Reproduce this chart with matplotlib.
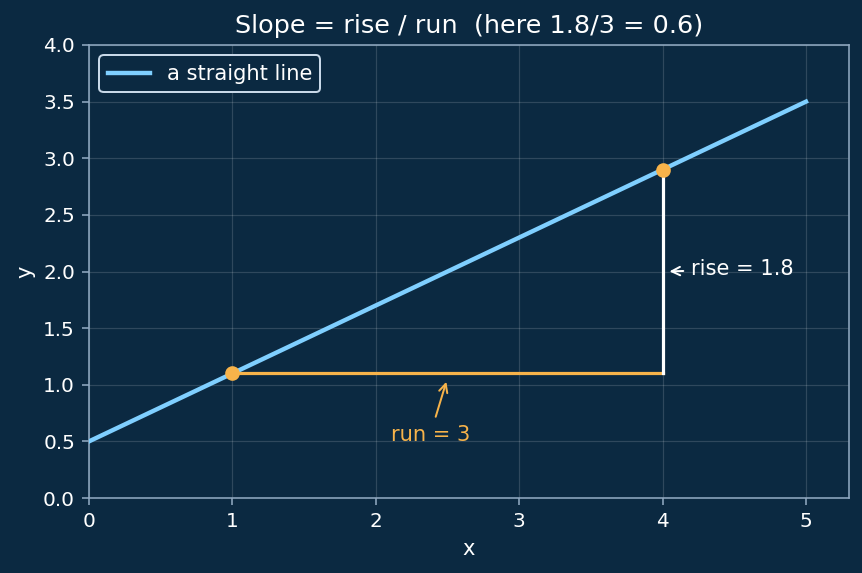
import matplotlib
matplotlib.use("Agg")
import matplotlib.pyplot as plt
import numpy as np

# data
line_x = [0, 5]
slope = 0.6
intercept = 0.5
line_y = [slope * x + intercept for x in line_x]
pts_x = [1, 4]
pts_y = [1.1, 2.9]
xticks = [0, 1, 2, 3, 4, 5]
yticks = [0.0, 0.5, 1.0, 1.5, 2.0, 2.5, 3.0, 3.5, 4.0]

BG = "#0b2941"
BLUE = "#7fcfff"
ORANGE = "#f7b34a"
SPINE = "#8fa8c0"
TXT = "#ffffff"

dpi = 143.67
fig = plt.figure(figsize=(862 / dpi, 573 / dpi), dpi=dpi, facecolor=BG)
ax = fig.add_axes([89 / 862, 75 / 573, 760 / 862, 453 / 573])
ax.set_facecolor(BG)

ax.plot(line_x, line_y, color=BLUE, lw=2.2, label="a straight line", zorder=3)
ax.plot([pts_x[0], pts_x[1]], [pts_y[0], pts_y[0]], color=ORANGE, lw=1.6, zorder=3)
ax.plot([pts_x[1], pts_x[1]], [pts_y[0], pts_y[1]], color="white", lw=1.6, zorder=3)
ax.scatter(pts_x, pts_y, color=ORANGE, s=40, zorder=5)

ax.annotate("run = 3", xy=(2.5, 1.06), xytext=(2.38, 0.56), color=ORANGE,
            fontsize=10.5, ha="center", va="center",
            arrowprops=dict(arrowstyle="->", color=ORANGE, lw=1.0))
ax.annotate("rise = 1.8", xy=(4.02, 2.0), xytext=(4.2, 2.02), color=TXT,
            fontsize=10.5, ha="left", va="center",
            arrowprops=dict(arrowstyle="->", color=TXT, lw=1.0))

ax.set_xlim(0, 5.3)
ax.set_ylim(0, 4.0)
ax.set_xticks(xticks)
ax.set_yticks(yticks)
ax.set_xticklabels([str(t) for t in xticks])
ax.set_yticklabels([f"{t:.1f}" for t in yticks])
ax.grid(True, color="#ffffff", alpha=0.15, lw=0.6)
ax.set_axisbelow(True)
for s in ax.spines.values():
    s.set_color(SPINE)
ax.tick_params(colors=SPINE, labelcolor=TXT, labelsize=10)
ax.set_xlabel("x", color=TXT, fontsize=10.5)
ax.set_ylabel("y", color=TXT, fontsize=10.5)
ax.set_title("Slope = rise / run  (here 1.8/3 = 0.6)", color=TXT, fontsize=12.8)

leg = ax.legend(loc="upper left", fontsize=10.5, facecolor=BG, edgecolor="#c8d8e8",
                framealpha=1.0, labelcolor=TXT)
leg.get_frame().set_linewidth(1.0)

fig.savefig("out.png", dpi=dpi, facecolor=BG)
